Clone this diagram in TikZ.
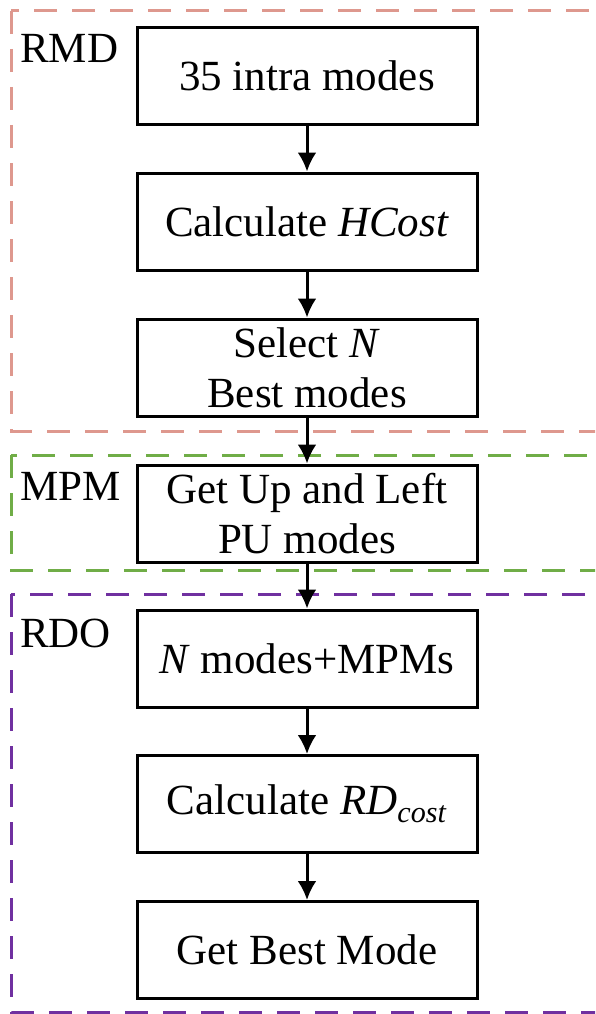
\documentclass[tikz,border=0pt]{standalone}
\usepackage{fontspec}
\setmainfont{Liberation Serif}
\usetikzlibrary{arrows.meta}
\definecolor{rmdcol}{RGB}{222,152,142}
\definecolor{mpmcol}{RGB}{112,173,71}
\definecolor{rdocol}{RGB}{112,48,160}

\tikzset{
	stepbox/.style={draw, line width=3pt, rectangle, inner sep=0pt,
			minimum width=340pt, minimum height=97pt, align=center,
			font=\fontsize{43}{50}\selectfont},
	flow/.style={-{Latex[length=19pt, width=19pt]}, line width=3pt},
	stage/.style={line width=3pt, dash pattern=on 23pt off 15pt},
	stagelabel/.style={anchor=base west, inner sep=0pt,
			font=\fontsize{43}{50}\selectfont}
}

\begin{document}
\begin{tikzpicture}[x=1pt, y=-1pt]

	% --- Page frame ---
	\useasboundingbox (0,0) rectangle (595,1014);
	\clip (0,0) rectangle (595,1014);

	% --- Parameters ---
	\def\colX{307}   % centre line of the flow

	% =============================================
	%  STAGE FRAMES
	% =============================================

	\draw[stage, rmdcol] (11,11) rectangle (640,431);
	\draw[stage, mpmcol] (11,455) rectangle (640,570);
	\draw[stage, rdocol] (11,594) rectangle (640,1012);

	\node[stagelabel] (lblRMD) at (20,63) {RMD};
	\node[stagelabel] (lblMPM) at (20,500) {MPM};
	\node[stagelabel] (lblRDO) at (20,647) {RDO};

	% =============================================
	%  FLOW BOXES
	% =============================================

	\node[stepbox] (intra)  at (\colX,76)    {35 intra modes};
	\node[stepbox] (hcost)  at (\colX,221.5) {Calculate \textit{HCost}};
	\node[stepbox] (select) at (\colX,367.5) {Select \textit{N}\\Best modes};
	\node[stepbox] (getmpm) at (\colX,513.5) {Get Up and Left\\PU modes};
	\node[stepbox] (cand)   at (\colX,658.5) {\textit{N} modes+MPMs};
	\node[stepbox] (rdcost) at (\colX,804)   {Calculate \textit{RD}\textsubscript{\textit{cost}}};
	\node[stepbox] (best)   at (\colX,950)   {Get Best Mode};

	% --- Arrows ---
	\draw[flow] (intra) -- (hcost);
	\draw[flow] (hcost) -- (select);
	\draw[flow] (select) -- (getmpm);
	\draw[flow] (getmpm) -- (cand);
	\draw[flow] (cand) -- (rdcost);
	\draw[flow] (rdcost) -- (best);

\end{tikzpicture}
\end{document}
